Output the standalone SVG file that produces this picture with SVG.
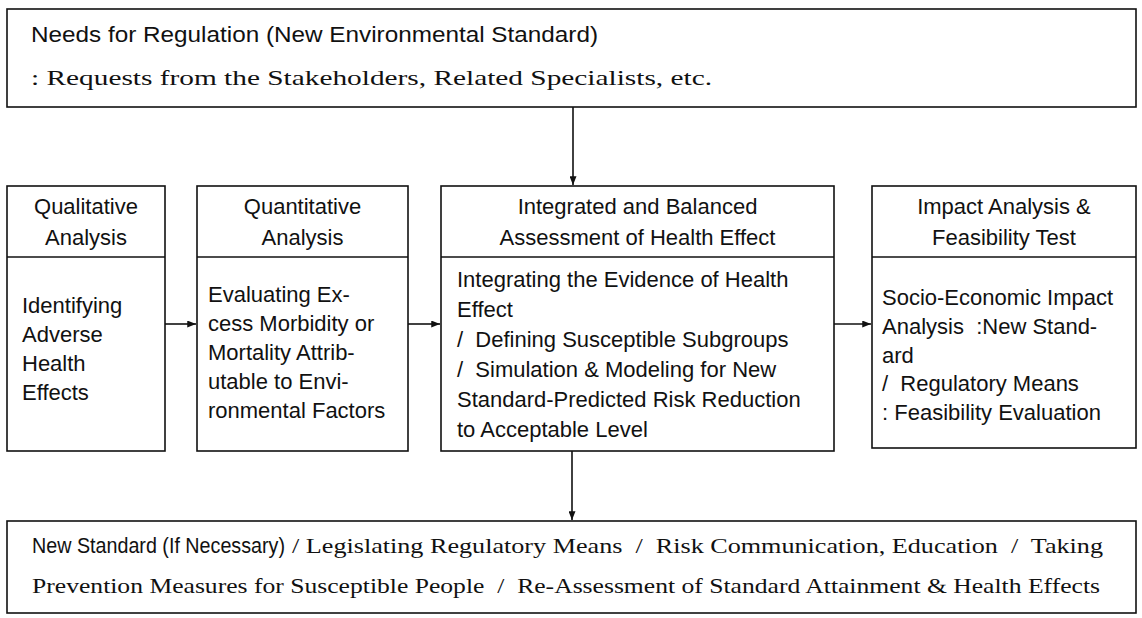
<svg xmlns="http://www.w3.org/2000/svg" width="1142" height="618" viewBox="0 0 1142 618">
  <style>
    .box { fill: #ffffff; stroke: #111111; stroke-width: 1.6; }
    .div { stroke: #111111; stroke-width: 1.6; }
    .sans { font-family: "Liberation Sans", Arial, sans-serif; font-size: 22px; fill: #111111; white-space: pre; }
    .serif { font-family: "Liberation Serif", "Times New Roman", serif; font-size: 22px; fill: #111111; white-space: pre; }
    .hd { text-anchor: middle; }
    .conn { stroke: #111111; stroke-width: 1.6; fill: none; marker-end: url(#arrow); }
  </style>
  <defs>
    <marker id="arrow" viewBox="0 0 10 8" refX="10" refY="4" markerWidth="10" markerHeight="7" markerUnits="userSpaceOnUse" orient="auto">
      <path d="M0,0 L10,4 L0,8 Z" fill="#111111"/>
    </marker>
  </defs>

  <rect width="1142" height="618" fill="#ffffff"/>

  <!-- Top: source of the regulatory need -->
  <g id="needs">
    <rect class="box" x="7" y="9" width="1129" height="98"/>
    <text class="sans" x="31" y="42" font-size="21" textLength="567" lengthAdjust="spacingAndGlyphs">Needs for Regulation (New Environmental Standard)</text>
    <text class="serif" x="31" y="85" textLength="681" lengthAdjust="spacingAndGlyphs">: Requests from the Stakeholders, Related Specialists, etc.</text>
  </g>

  <!-- Step 1 -->
  <g id="qualitative">
    <rect class="box" x="7" y="186" width="158" height="265"/>
    <line class="div" x1="7" y1="257" x2="165" y2="257"/>
    <text class="sans hd" x="86" y="214">Qualitative</text>
    <text class="sans hd" x="86" y="245">Analysis</text>
    <text class="sans" x="22" y="313">Identifying</text>
    <text class="sans" x="22" y="342">Adverse</text>
    <text class="sans" x="22" y="371">Health</text>
    <text class="sans" x="22" y="400">Effects</text>
  </g>

  <!-- Step 2 -->
  <g id="quantitative">
    <rect class="box" x="197" y="186" width="211" height="265"/>
    <line class="div" x1="197" y1="257" x2="408" y2="257"/>
    <text class="sans hd" x="302.5" y="214">Quantitative</text>
    <text class="sans hd" x="302.5" y="245">Analysis</text>
    <text class="sans" x="208" y="302">Evaluating Ex-</text>
    <text class="sans" x="208" y="331">cess Morbidity or</text>
    <text class="sans" x="208" y="360">Mortality Attrib-</text>
    <text class="sans" x="208" y="389">utable to Envi-</text>
    <text class="sans" x="208" y="418">ronmental Factors</text>
  </g>

  <!-- Step 3 -->
  <g id="integrated">
    <rect class="box" x="441" y="186" width="393" height="265"/>
    <line class="div" x1="441" y1="257" x2="834" y2="257"/>
    <text class="sans hd" x="637.5" y="214">Integrated and Balanced</text>
    <text class="sans hd" x="637.5" y="245">Assessment of Health Effect</text>
    <text class="sans" x="457" y="287">Integrating the Evidence of Health</text>
    <text class="sans" x="457" y="317">Effect</text>
    <text class="sans" x="457" y="347">/  Defining Susceptible Subgroups</text>
    <text class="sans" x="457" y="377">/  Simulation &amp; Modeling for New</text>
    <text class="sans" x="457" y="407">Standard-Predicted Risk Reduction</text>
    <text class="sans" x="457" y="437">to Acceptable Level</text>
  </g>

  <!-- Step 4 -->
  <g id="impact">
    <rect class="box" x="872" y="186" width="264" height="262"/>
    <line class="div" x1="872" y1="257" x2="1136" y2="257"/>
    <text class="sans hd" x="1004" y="214">Impact Analysis &amp;</text>
    <text class="sans hd" x="1004" y="245">Feasibility Test</text>
    <text class="sans" x="882" y="305">Socio-Economic Impact</text>
    <text class="sans" x="882" y="334">Analysis  :New Stand-</text>
    <text class="sans" x="882" y="363">ard</text>
    <text class="sans" x="882" y="391">/  Regulatory Means</text>
    <text class="sans" x="882" y="420">: Feasibility Evaluation</text>
  </g>

  <!-- Outcome -->
  <g id="outcome">
    <rect class="box" x="7" y="521" width="1129" height="92"/>
    <text class="sans" x="32" y="553" font-size="20" textLength="253" lengthAdjust="spacingAndGlyphs">New Standard (If Necessary)</text>
    <text class="serif" x="292" y="553" textLength="811" lengthAdjust="spacingAndGlyphs">/ Legislating Regulatory Means  /  Risk Communication, Education  /  Taking</text>
    <text class="serif" x="32" y="593" textLength="1068" lengthAdjust="spacingAndGlyphs">Prevention Measures for Susceptible People  /  Re-Assessment of Standard Attainment &amp; Health Effects</text>
  </g>

  <!-- Connectors -->
  <g id="connectors">
    <line class="conn" x1="573" y1="107" x2="573" y2="185"/>
    <line class="conn" x1="165" y1="324" x2="196" y2="324"/>
    <line class="conn" x1="408" y1="324" x2="440" y2="324"/>
    <line class="conn" x1="834" y1="324" x2="871" y2="324"/>
    <line class="conn" x1="572" y1="451" x2="572" y2="520"/>
  </g>
</svg>
